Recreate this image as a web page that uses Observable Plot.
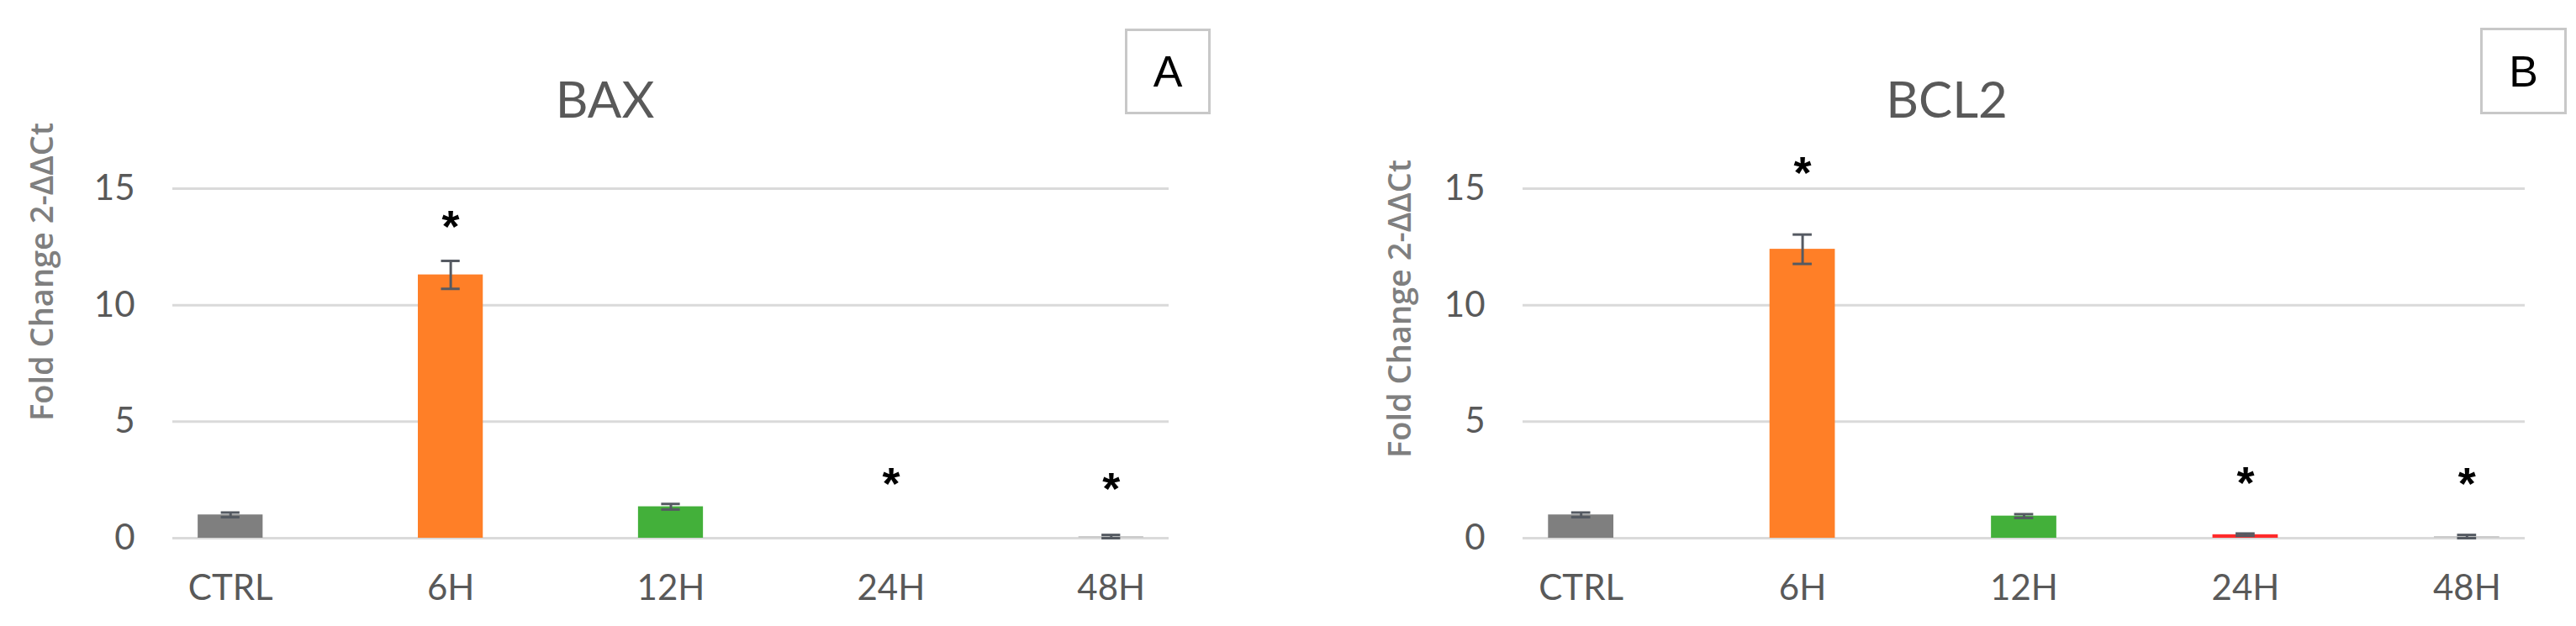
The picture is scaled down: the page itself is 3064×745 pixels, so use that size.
<!DOCTYPE html>
<html>
<head>
<meta charset="utf-8">
<script src="https://cdn.jsdelivr.net/npm/d3@7"></script>
<script src="https://cdn.jsdelivr.net/npm/@observablehq/plot@0.6"></script>
<style>
  html, body { margin: 0; padding: 0; background: #ffffff; }
  #wrap { position: relative; width: 3064px; height: 745px; overflow: hidden; background: #fff; }
  .panel { position: absolute; top: 0; }
  .tag { position: absolute; box-sizing: border-box; border: 3px solid #c8c8c8; background: #fff;
         font-family: "Liberation Sans", Arial, sans-serif; font-size: 52px; color: #000;
         display: flex; align-items: center; justify-content: center; }
</style>
</head>
<body>
<div id="wrap"></div>
<script>
// ---- data ----
const categories = ["CTRL", "6H", "12H", "24H", "48H"];
const yTicks = [0, 5, 10, 15];
const barColors = ["#7f7f7f", "#ff7f27", "#43b03a", "#ff2a2a", "#c8c8c8"];

const baxValues = [1.0, 11.3, 1.35, 0.0, 0.07];
const baxErrors = [0.1, 0.6, 0.12, 0.0, 0.07];
const baxStars  = [null, 13.8, null, 2.77, 2.56];

const bcl2Values = [1.0, 12.4, 0.95, 0.15, 0.07];
const bcl2Errors = [0.1, 0.63, 0.08, 0.05, 0.07];
const bcl2Stars  = [null, 16.1, null, 2.8, 2.78];

const yLabel = "Fold Change 2-ΔΔCt";
const titles = ["BAX", "BCL2"];
const tags = ["A", "B"];

const errColor = "#555a62";
const textGray = "#595959";

function panel({title, values, errors, stars, marginLeft, marginRight, titleDx, labelDx, labelDy}) {
  const rows = categories.map((c, i) => ({cat: c, value: values[i], err: errors[i], color: barColors[i], star: stars[i]}));
  const errRows = rows.filter(d => d.err > 0);
  const starRows = rows.filter(d => d.star != null);
  return Plot.plot({
    width: 1532,
    height: 745,
    marginLeft,
    marginRight,
    marginTop: 224,
    marginBottom: 105,
    style: {fontFamily: "Lato, sans-serif", fontSize: "42px", color: textGray, background: "#fff", overflow: "visible"},
    x: {domain: categories, paddingInner: 0.705, paddingOuter: 0.115, round: false, label: null},
    y: {domain: [0, 15], label: null},
    color: {type: "identity"},
    marks: [
      Plot.ruleY(yTicks, {stroke: "#dadada", strokeWidth: 3}),
      Plot.axisY({ticks: yTicks, tickSize: 0, tickPadding: 45, label: null, fill: textGray, fontSize: 42}),
      Plot.axisX({tickSize: 0, tickPadding: 44, label: null, fill: textGray, fontSize: 42}),
      Plot.barY(rows, {x: "cat", y: "value", fill: "color"}),
      Plot.ruleX(errRows, {x: "cat", y1: d => d.value - d.err, y2: d => d.value + d.err, stroke: errColor, strokeWidth: 3}),
      Plot.tickY(errRows, {x: "cat", y: d => d.value + d.err, stroke: errColor, strokeWidth: 3, insetLeft: 27.5, insetRight: 27.5}),
      Plot.tickY(errRows, {x: "cat", y: d => d.value - d.err, stroke: errColor, strokeWidth: 3, insetLeft: 27.5, insetRight: 27.5}),
      Plot.text(starRows, {x: "cat", y: "star", text: () => "*", fontSize: 54, fontWeight: "bold",
        fontFamily: "Liberation Sans, Arial, sans-serif", fill: "#000", dy: 13}),
      Plot.text([title], {text: d => d, frameAnchor: "top-left", textAnchor: "middle", lineAnchor: "middle",
        dx: titleDx, dy: -104, fontSize: 60, fill: textGray}),
      Plot.text([yLabel], {text: d => d, frameAnchor: "left", textAnchor: "middle", lineAnchor: "middle",
        rotate: -90, dx: labelDx, dy: labelDy,
        fontSize: 38, fontWeight: 600, fontFamily: "Open Sans, sans-serif", fill: "#7f7f7f"})
    ]
  });
}

const wrap = document.getElementById("wrap");

const a = panel({title: titles[0], values: baxValues, errors: baxErrors, stars: baxStars,
  marginLeft: 205, marginRight: 142, titleDx: 514, labelDx: -155, labelDy: -109});
a.classList.add("panel"); a.style.left = "0px";
wrap.appendChild(a);

const b = panel({title: titles[1], values: bcl2Values, errors: bcl2Errors, stars: bcl2Stars,
  marginLeft: 279, marginRight: 61, titleDx: 504, labelDx: -146, labelDy: -65});
b.classList.add("panel"); b.style.left = "1532px";
wrap.appendChild(b);

const tagBoxes = [{left: 1338, top: 34, size: 102}, {left: 2950, top: 33, size: 103}];
tags.forEach((t, i) => {
  const d = document.createElement("div");
  d.className = "tag";
  d.textContent = t;
  d.style.left = tagBoxes[i].left + "px";
  d.style.top = tagBoxes[i].top + "px";
  d.style.width = tagBoxes[i].size + "px";
  d.style.height = tagBoxes[i].size + "px";
  wrap.appendChild(d);
});
</script>
</body>
</html>
